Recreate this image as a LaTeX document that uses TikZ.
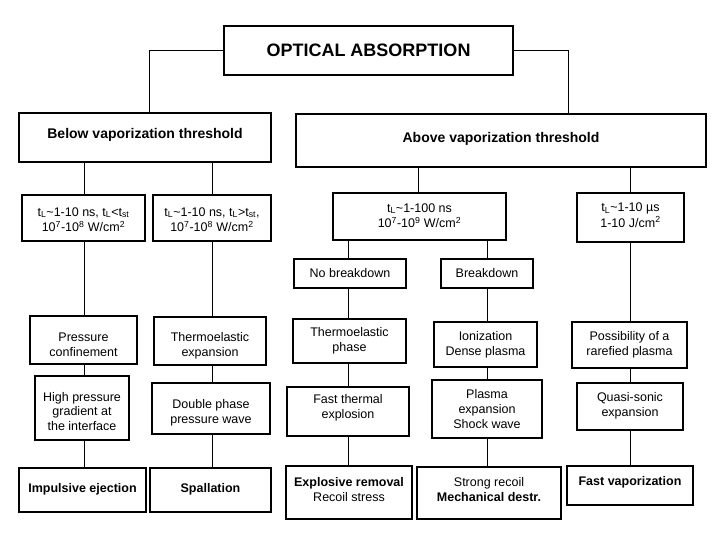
\documentclass[tikz,border=0pt]{standalone}
\usepackage{fontspec}
\setmainfont{Liberation Sans}
\begin{document}
\begin{tikzpicture}[x=1pt,y=-1pt,
  box/.style={draw, line width=1.1pt, inner sep=0pt},
  txt/.style={inner sep=0pt, align=center, font=\fontsize{12.5}{14.8}\selectfont},
  tbox/.style={font=\fontsize{12.5}{15.5}\selectfont},
  conn/.style={line width=1pt}]
\useasboundingbox (0,0) rectangle (720,540);
% #1 text style, #2 name, #3 left, #4 top, #5 right, #6 bottom, #7 text offset (down), #8 text
\newcommand\bx[8][]{%
  \node[box,minimum width={#5pt-#3pt},minimum height={#6pt-#4pt}]
    (#2) at ({(#3+#5)/2},{(#4+#6)/2}) {};
  \node[txt,#1] (#2-t) at ({(#3+#5)/2},{(#4+#6)/2+#7}) {#8};}
% top levels
\bx[font=\fontsize{18}{20}\selectfont\bfseries]{oa}{224}{26}{513}{75}{0}{OPTICAL ABSORPTION}
\bx[font=\fontsize{14}{16}\selectfont\bfseries]{below}{19}{113}{271}{162}{-3}{Below vaporization threshold}
\bx[font=\fontsize{14}{16}\selectfont\bfseries]{above}{296}{114}{706}{167}{-2}{Above vaporization threshold}
% regime boxes
\bx[tbox]{t1}{22}{195}{145}{241}{1.5}{t\textsubscript{L}\textasciitilde1-10 ns, t\textsubscript{L}<t\textsubscript{st}\\10\textsuperscript{7}-10\textsuperscript{8} W/cm\textsuperscript{2}}
\bx[tbox]{t2}{153}{195}{271}{241}{1.5}{t\textsubscript{L}\textasciitilde1-10 ns, t\textsubscript{L}>t\textsubscript{st},\\10\textsuperscript{7}-10\textsuperscript{8} W/cm\textsuperscript{2}}
\bx[tbox]{t3}{333}{193}{506}{240}{-1}{t\textsubscript{L}\textasciitilde1-100 ns\\10\textsuperscript{7}-10\textsuperscript{9} W/cm\textsuperscript{2}}
\bx[tbox]{t4}{577}{193}{684}{242}{-2.5}{t\textsubscript{L}\textasciitilde1-10 µs\\1-10 J/cm\textsuperscript{2}}
\bx{nob}{294}{259}{406}{288}{0}{No breakdown}
\bx{bd}{441}{259}{533}{288}{0}{Breakdown}
% mechanisms
\bx{pc}{30}{316}{137}{364}{4.5}{Pressure\\confinement}
\bx{te}{154}{317}{266}{365}{4.5}{Thermoelastic\\expansion}
\bx{tp}{293}{319}{406}{363}{0}{Thermoelastic\\phase}
\bx{ion}{434}{322}{537}{367}{0}{Ionization\\Dense plasma}
\bx{pos}{572}{322}{687}{368}{0}{Possibility of a\\rarefied plasma}
\bx{hp}{35}{376}{129}{440}{3.5}{High pressure\\gradient at\\the interface}
\bx{dp}{152}{383}{270}{434}{4}{Double phase\\pressure wave}
\bx{ft}{287}{387}{409}{436}{-3.5}{Fast thermal\\explosion}
\bx{pe}{432}{380}{542}{438}{0}{Plasma\\expansion\\Shock wave}
\bx{qs}{577}{383}{683}{430}{-1}{Quasi-sonic\\expansion}
% results
\bx[font=\fontsize{12.5}{14.8}\selectfont\bfseries]{ie}{19}{468}{146}{512}{-1}{Impulsive ejection}
\bx[font=\fontsize{12.5}{14.8}\selectfont\bfseries]{sp}{150}{468}{271}{512}{-1}{Spallation}
\bx{er}{286}{466}{412}{519}{-3}{\textbf{Explosive removal}\\Recoil stress}
\bx{sr}{417}{467}{561}{519}{-3.5}{Strong recoil\\\textbf{Mechanical destr.}}
\bx[font=\fontsize{12.5}{14.8}\selectfont\bfseries]{fv}{567}{466}{693}{505}{-3.5}{Fast vaporization}
% column coordinates
\coordinate (cl) at (149,0);
\coordinate (cr) at (568,0);
\coordinate (c1) at (84,0);
\coordinate (c2) at (212,0);
\coordinate (ct) at (418,0);
\coordinate (c3) at (348.5,0);
\coordinate (c4) at (487.5,0);
\coordinate (c5) at (630.5,0);
% connectors
\draw[conn] (oa.west) -| (below.north -| cl);
\draw[conn] (oa.east) -| (above.north -| cr);
\draw[conn] (below.south -| c1) -- (t1.north -| c1);
\draw[conn] (below.south -| c2) -- (t2.north -| c2);
\draw[conn] (above.south -| ct) -- (t3.north -| ct);
\draw[conn] (above.south -| c5) -- (t4.north -| c5);
\draw[conn] (t3.south -| c3) -- (nob.north -| c3);
\draw[conn] (t3.south -| c4) -- (bd.north -| c4);
\draw[conn] (t1.south -| c1) -- (pc.north -| c1);
\draw[conn] (pc.south -| c1) -- (hp.north -| c1);
\draw[conn] (hp.south -| c1) -- (ie.north -| c1);
\draw[conn] (t2.south -| c2) -- (te.north -| c2);
\draw[conn] (te.south -| c2) -- (dp.north -| c2);
\draw[conn] (dp.south -| c2) -- (sp.north -| c2);
\draw[conn] (nob.south -| c3) -- (tp.north -| c3);
\draw[conn] (tp.south -| c3) -- (ft.north -| c3);
\draw[conn] (ft.south -| c3) -- (er.north -| c3);
\draw[conn] (bd.south -| c4) -- (ion.north -| c4);
\draw[conn] (ion.south -| c4) -- (pe.north -| c4);
\draw[conn] (pe.south -| c4) -- (sr.north -| c4);
\draw[conn] (t4.south -| c5) -- (pos.north -| c5);
\draw[conn] (pos.south -| c5) -- (qs.north -| c5);
\draw[conn] (qs.south -| c5) -- (fv.north -| c5);
\end{tikzpicture}
\end{document}
